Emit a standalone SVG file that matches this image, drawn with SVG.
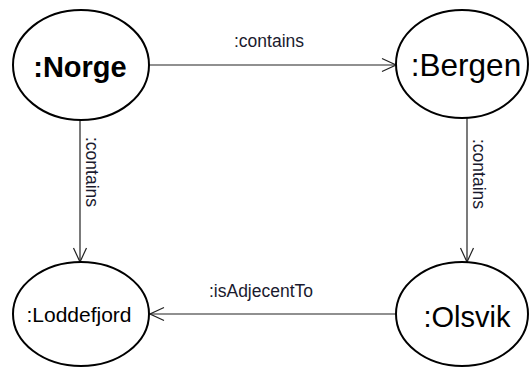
<svg xmlns="http://www.w3.org/2000/svg" width="531" height="369" viewBox="0 0 531 369">
  <style>
    .node { fill: #fff; stroke: #000; stroke-width: 2; }
    .name { font-family: "Liberation Sans", Arial, sans-serif; fill: #000; text-anchor: middle; }
    .edge { stroke: #222; stroke-width: 1.2; fill: none; }
    .label { font-family: "Liberation Sans", Arial, sans-serif; font-size: 17.5px; fill: #1a1a2e; text-anchor: middle; }
  </style>
  <defs>
    <marker id="open-arrow" viewBox="0 0 16 16" refX="15" refY="8" markerWidth="16" markerHeight="16" markerUnits="userSpaceOnUse" orient="auto">
      <path d="M1,1.5 L15,8 L1,14.5" fill="none" stroke="#222" stroke-width="1.2"/>
    </marker>
  </defs>

  <rect width="531" height="369" fill="#fff"/>

  <g id="connectors">
    <line class="edge" x1="149" y1="65" x2="396" y2="65" marker-end="url(#open-arrow)"/>
    <text class="label" x="269" y="47">:contains</text>
    <line class="edge" x1="80" y1="120" x2="80" y2="262" marker-end="url(#open-arrow)"/>
    <text class="label" x="86" y="172" transform="rotate(90 86 172)">:contains</text>
    <line class="edge" x1="467" y1="118" x2="467" y2="262" marker-end="url(#open-arrow)"/>
    <text class="label" x="473" y="174" transform="rotate(90 473 174)">:contains</text>
    <line class="edge" x1="396" y1="314" x2="150" y2="314" marker-end="url(#open-arrow)"/>
    <text class="label" x="261" y="297">:isAdjecentTo</text>
  </g>

  <g id="norge">
    <ellipse class="node" cx="81" cy="65" rx="68" ry="55"/>
    <text class="name" x="80" y="77" font-size="29" font-weight="bold">:Norge</text>
  </g>
  <g id="bergen">
    <ellipse class="node" cx="462" cy="64" rx="66" ry="54"/>
    <text class="name" x="466" y="76" font-size="31.5">:Bergen</text>
  </g>
  <g id="loddefjord">
    <ellipse class="node" cx="81" cy="314" rx="68" ry="52"/>
    <text class="name" x="79" y="322" font-size="21">:Loddefjord</text>
  </g>
  <g id="olsvik">
    <ellipse class="node" cx="462" cy="314" rx="66" ry="52"/>
    <text class="name" x="467" y="327" font-size="29">:Olsvik</text>
  </g>
</svg>
